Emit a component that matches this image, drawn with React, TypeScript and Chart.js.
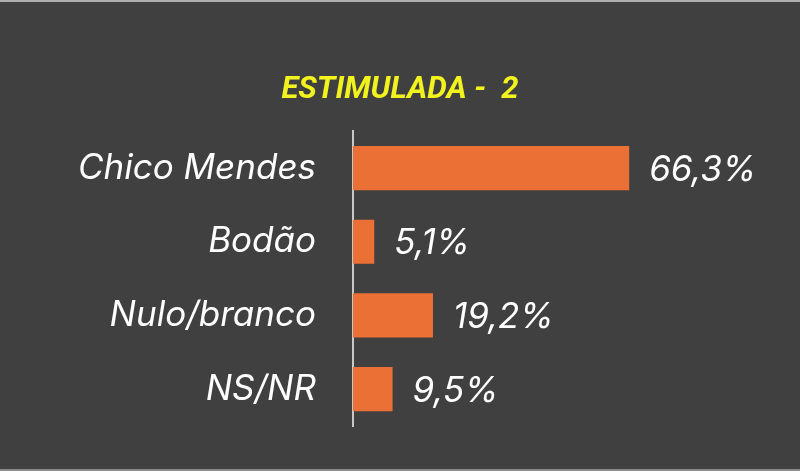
import React, { useEffect, useRef } from "react";
import { Chart, registerables } from "chart.js";

Chart.register(...registerables);

const categories = ["Chico Mendes", "Bodão", "Nulo/branco", "NS/NR"];
const values = [66.3, 5.1, 19.2, 9.5];
const titleText = "ESTIMULADA -  2";

const BG = "#404040";
const BAR = "#ea7035";

const valueLabels = {
  id: "valueLabels",
  afterDatasetsDraw(chart: any) {
    const ctx = chart.ctx;
    const meta = chart.getDatasetMeta(0);
    ctx.save();
    ctx.font = "italic 35px Inter";
    ctx.fillStyle = "#ffffff";
    ctx.textAlign = "left";
    ctx.textBaseline = "middle";
    meta.data.forEach((bar: any, i: number) => {
      const txt = values[i].toFixed(1).replace(".", ",") + "%";
      ctx.fillText(txt, bar.x + 20, bar.y + 2);
    });
    ctx.restore();
  },
};

export default function App() {
  const ref = useRef<HTMLCanvasElement>(null);
  useEffect(() => {
    document.body.style.margin = "0";
    document.body.style.background = BG;
    const chart = new Chart(ref.current!, {
      type: "bar",
      data: {
        labels: categories,
        datasets: [
          {
            data: values,
            backgroundColor: BAR,
            barPercentage: 1,
            categoryPercentage: 0.6,
          },
        ],
      },
      options: {
        indexAxis: "y",
        animation: false,
        responsive: false,
        maintainAspectRatio: false,
        layout: { padding: { top: 0, bottom: 43, left: 0, right: 0 } },
        plugins: {
          legend: { display: false },
          tooltip: { enabled: false },
          title: {
            display: true,
            text: titleText,
            color: "#f2f21e",
            font: { family: "Roboto", size: 31, weight: "bold", style: "italic" },
            padding: { top: 70, bottom: 22 },
          },
        },
        scales: {
          x: { display: false, min: 0, max: 107.3 },
          y: {
            grid: { display: false, drawTicks: false },
            border: { display: true, color: "#c8c8c8", width: 2 },
            ticks: {
              color: "#ffffff",
              padding: 37,
              font: { family: "Inter", size: 35, style: "italic" },
            },
            afterFit: (s: any) => {
              s.width = 353;
              s.paddingTop = 0;
              s.paddingBottom = 0;
            },
          },
        },
      },
      plugins: [valueLabels],
    });
    return () => chart.destroy();
  }, []);
  return (
    <div style={{ width: 800, height: 471, background: BG, boxSizing: "border-box", borderTop: "2px solid #b0b0b0", borderBottom: "2px solid #8a8a8a", position: "relative" }}>
      <canvas ref={ref} width={800} height={467} style={{ display: "block" }} />
    </div>
  );
}
